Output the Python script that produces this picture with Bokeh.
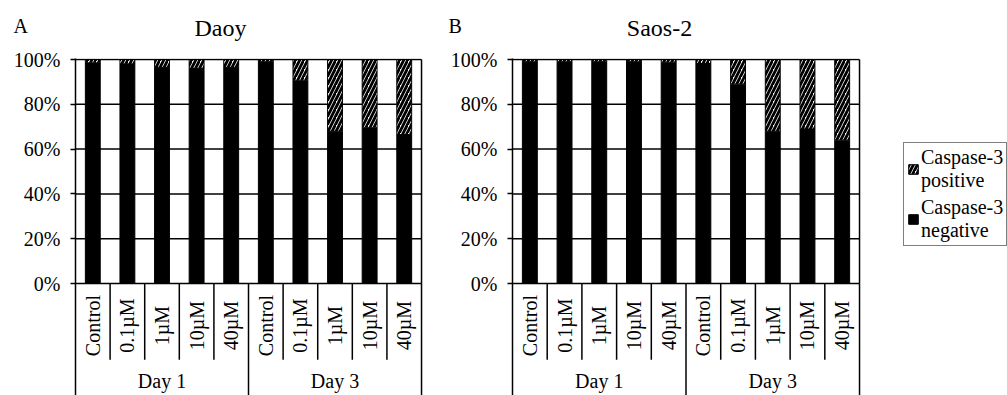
import math
from bokeh.plotting import figure
from bokeh.models import (ColumnDataSource, Range1d, FixedTicker, PrintfTickFormatter,
                          Legend, LegendItem)
from bokeh.layouts import row, column
from bokeh.embed import file_html
from bokeh.resources import INLINE
from bokeh.core.properties import value

# ---------------- data ----------------
treatments = ["Control", "0.1µM", "1µM", "10µM", "40µM"]
days = ["Day 1", "Day 3"]
daoy_positive = [1.5, 2.0, 3.5, 4.0, 3.5, 1.0, 9.5, 32.0, 30.5, 33.5]
saos_positive = [1.0, 1.0, 1.0, 1.0, 1.2, 1.8, 11.0, 32.0, 31.0, 36.0]
yticks = [0, 20, 40, 60, 80, 100]
series_labels = ["Caspase-3\npositive", "Caspase-3\nnegative"]
panel_letters = ["A", "B"]
panel_titles = ["Daoy", "Saos-2"]

FONT = "Liberation Serif"
HATCH = dict(fill_color="white", hatch_pattern="/", hatch_color="black",
             hatch_weight=2.8, hatch_scale=8, line_color="black", line_width=1)
SOLID = dict(fill_color="black", line_color="black", line_width=1)


def make_panel(positive, width, left, right):
    n_t = len(treatments)
    n = n_t * len(days)
    xs = [i + 0.5 for i in range(n)]
    labels = treatments * len(days)
    neg = [100 - v for v in positive]
    src = ColumnDataSource(dict(x=xs, neg=neg, full=[100] * n, label=labels))

    p = figure(width=width, height=350,
               x_range=Range1d(0, n + 0.057), y_range=Range1d(-50, 100.45),
               output_backend="svg", toolbar_location=None,
               x_axis_location=None,
               min_border_left=left, min_border_right=right,
               min_border_top=13, min_border_bottom=0)
    p.outline_line_color = None
    p.grid.visible = False

    ax = p.yaxis[0]
    ax.ticker = FixedTicker(ticks=yticks)
    ax.formatter = PrintfTickFormatter(format="%d%%")
    ax.axis_line_color = "black"
    ax.axis_line_width = 1.5
    ax.major_tick_line_color = "black"
    ax.major_tick_line_width = 1.5
    ax.major_tick_out = 5
    ax.major_tick_in = 0
    ax.minor_tick_line_color = None
    ax.major_label_standoff = 10
    ax.major_label_text_font = FONT
    ax.major_label_text_font_size = "20px"
    ax.major_label_text_color = "black"

    # horizontal grid lines (0..100 only)
    p.segment(x0=[0] * len(yticks), x1=[n] * len(yticks), y0=yticks, y1=yticks,
              line_color="black", line_width=1.5)
    # category separators
    seps = [i for i in range(1, n) if i % n_t != 0]
    p.segment(x0=seps, x1=seps, y0=[-34] * len(seps), y1=[0] * len(seps),
              line_color="black", line_width=1.5)
    # group separators and right border
    groups = [n_t * (g + 1) for g in range(len(days))]
    p.segment(x0=groups, x1=groups, y0=[-50] * len(groups), y1=[0] * len(groups),
              line_color="black", line_width=1.5)
    p.segment(x0=[n], x1=[n], y0=[0], y1=[100], line_color="black", line_width=1.5)

    # stacked bars
    p.vbar(x="x", width=0.43, bottom=0, top="neg", source=src, **SOLID)
    p.vbar(x="x", width=0.43, bottom="neg", top="full", source=src, **HATCH)

    # category labels (rotated) and group labels
    p.text(x="x", y=-18.8, text="label", source=src, angle=math.pi / 2,
           text_align="center", text_baseline="middle",
           text_font=value(FONT), text_font_size=value("20px"), text_color="black")
    p.text(x=[n_t * (g + 0.5) for g in range(len(days))], y=[-43.6] * len(days),
           text=days, text_align="center", text_baseline="middle",
           text_font=value(FONT), text_font_size=value("20px"), text_color="black")
    return p


# title strip (panel letters and titles)
strip = figure(width=1007, height=45, x_range=Range1d(0, 1007), y_range=Range1d(45, 0),
               output_backend="svg", toolbar_location=None,
               x_axis_location=None, y_axis_location=None, min_border=0)
strip.outline_line_color = None
strip.grid.visible = False
strip.text(x=[13, 448], y=[25, 25], text=panel_letters, text_align="left",
           text_baseline="middle", text_font=value(FONT),
           text_font_size=value("20px"), text_color="black")
strip.text(x=[220, 659], y=[27, 27], text=panel_titles, text_align="center",
           text_baseline="middle", text_font=value(FONT),
           text_font_size=value("24px"), text_color="black")

pA = make_panel(daoy_positive, 445, 75, 22)
pB = make_panel(saos_positive, 420, 67, 4)

# legend panel
pL = figure(width=142, height=350, x_range=Range1d(0, 1), y_range=Range1d(0, 1),
            output_backend="svg", toolbar_location=None,
            x_axis_location=None, y_axis_location=None, min_border=0)
pL.outline_line_color = None
pL.grid.visible = False
r_pos = pL.vbar(x=[5], top=[1], width=0.5, **HATCH)
r_neg = pL.vbar(x=[5], top=[1], width=0.5, **SOLID)
legend = Legend(items=[LegendItem(label=series_labels[0], renderers=[r_pos]),
                       LegendItem(label=series_labels[1], renderers=[r_neg])],
                location=(38, 149), orientation="vertical",
                border_line_color="black", border_line_width=1.5,
                background_fill_color="white", background_fill_alpha=1,
                label_text_font=FONT, label_text_font_size="20px",
                label_text_line_height=1.25,
                label_text_color="black", glyph_width=12, glyph_height=12,
                label_standoff=2, padding=3, spacing=4, margin=0)
pL.add_layout(legend)

layout = column(strip, row(pA, pB, pL))
open("out.html", "w").write(file_html(layout, INLINE))
